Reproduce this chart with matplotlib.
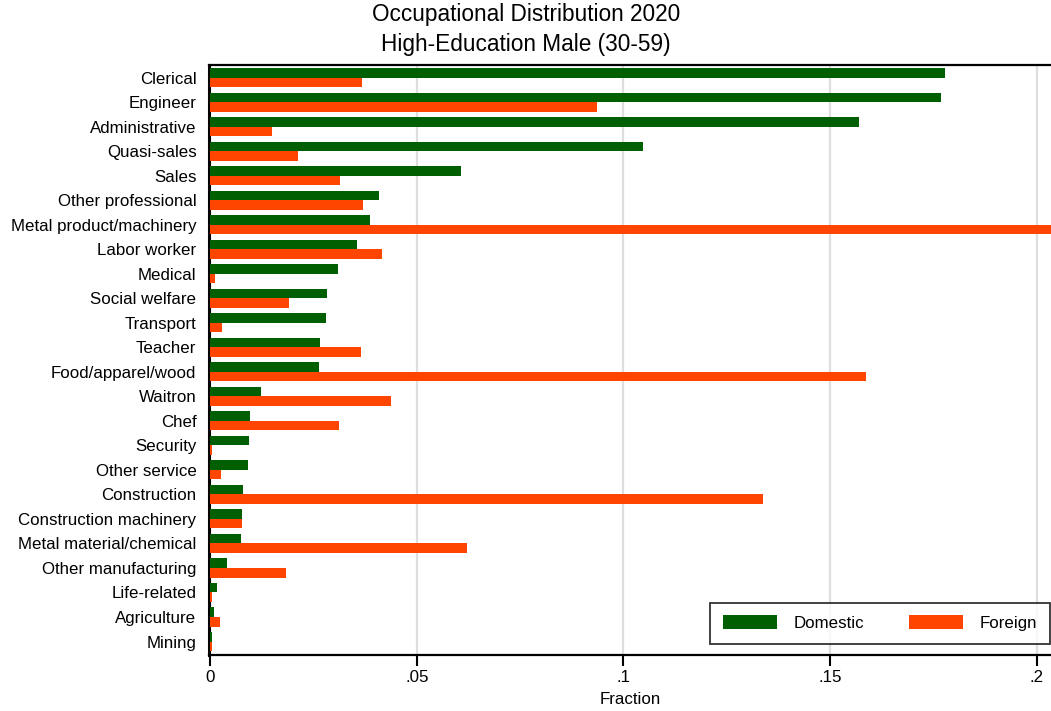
import matplotlib
matplotlib.use("Agg")
import matplotlib.pyplot as plt
import numpy as np
from matplotlib.patches import Patch

plt.rcParams['font.family'] = ['Liberation Sans', 'DejaVu Sans']

categories = ["Clerical", "Engineer", "Administrative", "Quasi-sales", "Sales",
              "Other professional", "Metal product/machinery", "Labor worker",
              "Medical", "Social welfare", "Transport", "Teacher", "Food/apparel/wood",
              "Waitron", "Chef", "Security", "Other service", "Construction",
              "Construction machinery", "Metal material/chemical", "Other manufacturing",
              "Life-related", "Agriculture", "Mining"]
domestic = [0.1778, 0.1768, 0.1570, 0.1047, 0.0607, 0.0409, 0.0387, 0.0356,
            0.0310, 0.0283, 0.0281, 0.0266, 0.0264, 0.0123, 0.0097, 0.0094,
            0.0092, 0.0080, 0.0077, 0.0075, 0.0041, 0.0017, 0.0010, 0.0005]
foreign = [0.0368, 0.0936, 0.0150, 0.0213, 0.0314, 0.0370, 0.2060, 0.0416,
           0.0012, 0.0191, 0.0029, 0.0365, 0.1587, 0.0438, 0.0312, 0.0005,
           0.0027, 0.1338, 0.0077, 0.0622, 0.0184, 0.0005, 0.0024, 0.0005]
xticks = [0, 0.05, 0.1, 0.15, 0.2]
xticklabels = ["0", ".05", ".1", ".15", ".2"]

green = "#005f00"
orange = "#ff4500"
fs = 12.2

fig = plt.figure(figsize=(10.51, 7.11), dpi=100)
ax = fig.add_axes([209/1051, 56/711, 1 - 209/1051, (655-65)/711])

n = len(categories)
pos = np.arange(n)[::-1]
h = 0.39
ax.barh(pos + h/2, domestic, height=h, color=green, label="Domestic", zorder=3)
ax.barh(pos - h/2, foreign, height=h, color=orange, label="Foreign", zorder=3)

ax.set_xlim(-0.00025, 0.2034)
ax.set_ylim(-0.55, n - 1 + 0.514)
ax.set_yticks(pos)
ax.set_yticklabels(categories, fontsize=fs)
ax.tick_params(axis='y', length=0, pad=9)
ax.set_xticks(xticks)
ax.set_xticklabels(xticklabels, fontsize=fs)
ax.tick_params(axis='x', length=8, width=1.5, direction='out', pad=3)
ax.xaxis.grid(True, color="#dedede", linewidth=1.6, zorder=0)
ax.set_axisbelow(True)
for s in ['left', 'bottom', 'top']:
    ax.spines[s].set_linewidth(1.6)
    ax.spines[s].set_color('black')
ax.spines['left'].set_linewidth(2.2)
ax.spines['right'].set_visible(False)
ax.set_xlabel("Fraction", fontsize=fs, labelpad=5)

handles = [Patch(facecolor=green, edgecolor='none', label="Domestic"),
           Patch(facecolor=orange, edgecolor='none', label="Foreign")]
leg = ax.legend(handles=handles, ncol=2, loc='lower right',
                bbox_to_anchor=(1050/1051, 56/711 + 11/711), bbox_transform=fig.transFigure,
                fontsize=fs, frameon=True, fancybox=False, edgecolor='black',
                handlelength=3.2, handleheight=0.9, handletextpad=1.0,
                columnspacing=2.6, borderpad=0.75, borderaxespad=0)
leg.get_frame().set_linewidth(1.3)

fig.text(526/1051, 1 - 14/711, "Occupational Distribution 2020", ha='center', va='center', fontsize=16.3)
fig.text(526/1051, 1 - 45/711, "High-Education Male (30-59)", ha='center', va='center', fontsize=16.3)

fig.savefig("out.png", dpi=100)
